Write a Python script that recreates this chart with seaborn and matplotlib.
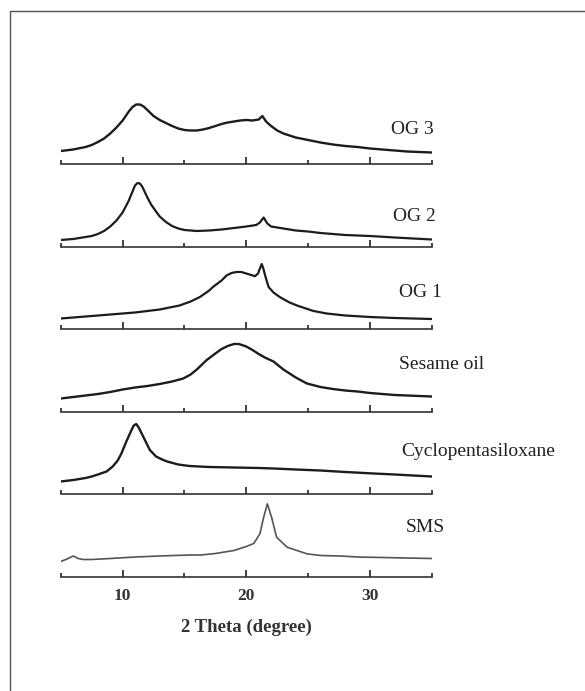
import numpy as np
import matplotlib
matplotlib.use("Agg")
import matplotlib.pyplot as plt
from matplotlib.patches import Rectangle
import seaborn as sns

sns.set_style("white")
plt.rcParams['font.family'] = ['Liberation Serif', 'DejaVu Serif']

# XRD patterns, intensity in arbitrary units (baseline of each panel = 0)
og3_tth = [5, 6, 7, 7.5, 8, 8.5, 9, 9.5, 10, 10.5, 10.8, 11.1, 11.4, 11.7, 12, 12.5, 13, 13.5, 14, 14.5,
           15, 15.5, 16, 16.5, 17, 17.5, 18, 18.5, 19, 19.5, 20, 20.5, 21, 21.3, 21.6, 22, 22.5,
           23, 24, 25, 26, 27, 28, 29, 30, 31, 32, 33, 34, 35]
og3_int = [12.5, 14, 16.5, 18.5, 21.5, 25, 30, 36, 43, 52, 56.5, 59, 59, 57, 53.5, 47.5, 43.5, 40.5, 37.5, 35,
           33.5, 33, 33, 34, 35.5, 37.5, 39.5, 41, 42, 43, 43.5, 43, 44, 47.5, 42, 37.5, 33,
           30, 26, 23.5, 21, 19, 17.5, 16.5, 15, 14, 13, 12, 11.5, 11]

og2_tth = [5, 6, 7, 7.5, 8, 8.5, 9, 9.5, 10, 10.5, 10.8, 11.0, 11.2, 11.4, 11.6, 12, 12.3, 12.7, 13, 13.5, 14,
           14.5, 15, 16, 17, 18, 19, 20, 20.8, 21.1, 21.4, 21.7, 22, 23, 24, 25, 26, 27, 28, 30, 32, 35]
og2_int = [6.5, 7.5, 9.5, 10.5, 12.5, 15.5, 20, 26, 34, 46, 55, 61, 63.5, 63, 59.5, 49, 42, 35, 30, 24.5, 20.5,
           18, 16.5, 15.5, 16, 17, 18.5, 20, 21.5, 24, 29, 23, 20, 18, 16, 15, 13.5, 12.5, 11.5, 10.5, 9, 7]

og1_tth = [5, 6, 7, 8, 9, 10, 11, 12, 13, 14, 14.6, 15.5, 16.25, 17, 17.3, 18, 18.4, 18.8, 19.2, 19.6,
           20, 20.4, 20.7, 20.95, 21.1, 21.25, 21.4, 21.5, 21.8, 22.2, 22.7, 23.5, 24.1, 25.4, 26.5,
           28, 30, 32, 35]
og1_int = [11, 12, 13, 14, 15, 16, 17, 18.5, 20, 22.5, 24, 28, 32.5, 39, 42.5, 49, 54, 56.5, 57.5, 57.5,
           56, 54.5, 53.3, 56, 61, 65.5, 60, 55, 42.5, 37, 32.5, 27, 24, 18.6, 16,
           14, 12.5, 11.5, 10.5]

sesame_tth = [5, 6, 7, 8, 9, 10, 11, 12, 13, 14, 14.9, 15.5, 16, 16.8, 17.5, 18, 18.5, 19, 19.4, 20,
              20.5, 21, 21.5, 22.2, 23, 24, 24.9, 26, 27, 28, 29, 30, 31, 32, 33, 34, 35]
sesame_int = [13, 14.5, 16, 17.5, 19.5, 22, 24, 25.5, 27.5, 30, 33, 37, 42, 51.5, 58, 62.5, 65.5, 67.5, 67.5, 65,
              61.5, 57.5, 54, 50, 42, 34, 28, 24.5, 22.5, 21, 20, 18.5, 17.5, 16.5, 16, 15.5, 15]

cyclo_tth = [5, 6, 7, 7.5, 8, 8.7, 9.2, 9.6, 9.9, 10.3, 10.7, 10.9, 11.1, 11.3, 11.7, 12.2, 12.7, 13.2, 13.6,
             14.5, 15.4, 17, 19, 21, 22.2, 24, 26, 28, 30.3, 32, 33.5, 35]
cyclo_int = [12, 13.5, 15.5, 17, 19, 22, 27, 33, 40, 52, 63, 68, 69.5, 66, 56, 43.5, 37, 34, 32,
             29, 27.5, 26.5, 26, 25.5, 25, 24, 23, 21.5, 20, 19, 18, 17]

sms_tth = [5, 5.5, 6.0, 6.4, 6.8, 7.5, 9, 11, 13, 14.1, 15.5, 16.3, 17.5, 19, 19.5, 20, 20.6, 21.1, 21.4,
           21.7, 22.05, 22.45, 23.3, 24.9, 26, 27.6, 29, 31, 33, 35]
sms_int = [15, 17.5, 20.5, 18, 17, 17, 18, 19.5, 20.5, 21, 21.5, 21.5, 23, 26, 28, 30, 33, 42.7, 59,
           72.7, 59, 39.3, 29.3, 22.7, 21, 20.5, 19.5, 19, 18.5, 18]

samples = ["OG 3", "OG 2", "OG 1", "Sesame oil", "Cyclopentasiloxane", "SMS"]
tth_list = [og3_tth, og2_tth, og1_tth, sesame_tth, cyclo_tth, sms_tth]
int_list = [og3_int, og2_int, og1_int, sesame_int, cyclo_int, sms_int]

W, H = 585, 691
base_px = [163.5, 246.5, 329.5, 411.5, 493.5, 576.5]
label_pos = [(391, 129), (393, 216.5), (399, 292), (399, 364.5), (401, 451.5), (406, 527)]
line_cols = ['#1c1c1c'] * 5 + ['#555555']
line_ws = [1.7, 1.6, 1.6, 1.7, 1.7, 1.2]
axis_col = '#333333'

fig = plt.figure(figsize=(W / 100, H / 100), dpi=100)
left, width = 60.8 / W, 371 / W
panel_h = 80

for i, name in enumerate(samples):
    ax = fig.add_axes([left, 1 - base_px[i] / H, width, panel_h / H])
    sns.lineplot(x=tth_list[i], y=int_list[i], ax=ax, color=line_cols[i], lw=line_ws[i])
    ax.set_xlim(5, 35)
    ax.set_ylim(0, panel_h)
    for s in ['top', 'left', 'right']:
        ax.spines[s].set_visible(False)
    ax.spines['bottom'].set_color(axis_col)
    ax.spines['bottom'].set_linewidth(1.2)
    ax.set_yticks([])
    ax.set_xticks([10, 20, 30])
    ax.set_xticks([5, 15, 25, 35], minor=True)
    ax.tick_params(axis='x', which='major', bottom=True, direction='in', length=5, width=1.3,
                   color=axis_col, pad=8, labelsize=12.5)
    ax.tick_params(axis='x', which='minor', bottom=True, direction='in', length=2.8, width=1.3,
                   color=axis_col)
    ax.set_ylabel('')
    ax.patch.set_alpha(0)
    if i < len(samples) - 1:
        ax.set_xticklabels([])
    else:
        for t in ax.get_xticklabels():
            t.set_fontweight('bold')
            t.set_color('#333333')
        ax.set_xlabel("2 Theta (degree)", fontsize=13.5, fontweight='bold', color='#333333')
        ax.xaxis.set_label_coords(0.5, (576.5 - 627.5) / panel_h)
        ax.xaxis.label.set_va('center')
    lx, ly = label_pos[i]
    fig.text(lx / W, 1 - ly / H, name, fontsize=14, color='#222222', ha='left', va='center')

# outer frame (right and bottom edges lie outside the picture)
frame = Rectangle((10 / W, -0.2), 1.5, 0.2 + 1 - 11.3 / H, transform=fig.transFigure,
                  fill=False, edgecolor='#555555', lw=1.0, clip_on=False)
fig.patches.append(frame)

fig.savefig("out.png", dpi=100)
